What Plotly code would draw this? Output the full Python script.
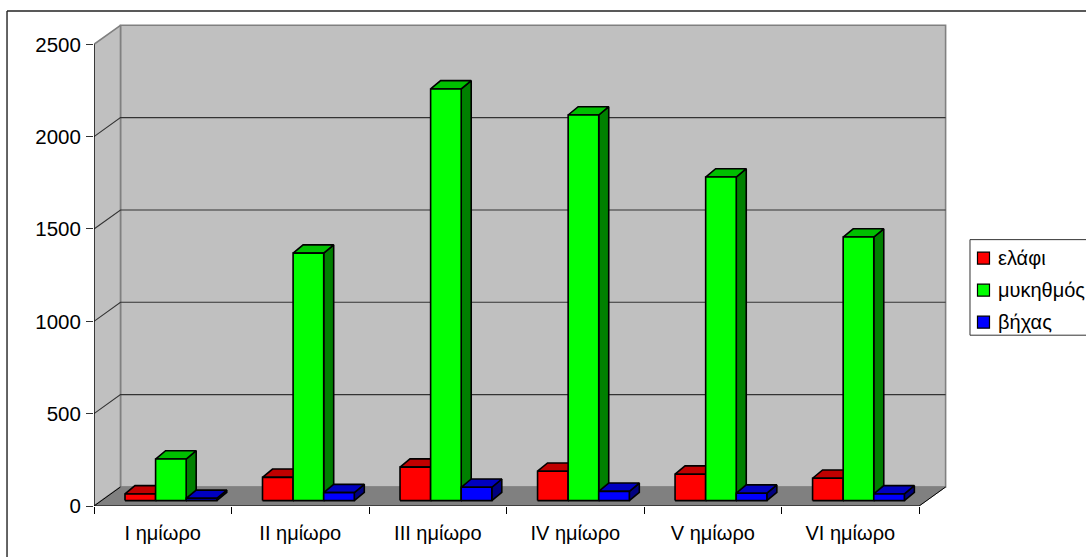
import plotly.graph_objects as go

categories = ["I ημίωρο", "II ημίωρο", "III ημίωρο", "IV ημίωρο", "V ημίωρο", "VI ημίωρο"]
elafi = [36, 126, 181, 159, 143, 121]
mykithmos = [225, 1340, 2229, 2088, 1752, 1427]
vichas = [12, 43, 72, 50, 40, 36]
y_ticks = [0, 500, 1000, 1500, 2000, 2500]

series = [
    ("ελάφι", elafi, "#FF0000", "#C00000", "#800000"),
    ("μυκηθμός", mykithmos, "#00FF00", "#00C000", "#008000"),
    ("βήχας", vichas, "#0000FF", "#0000C0", "#000080"),
]

W, H = 1086, 557
L, R, T, B = 93.8, 950, 20, 505.7
CAT_PX = 137.55
VAL_PX = 461.4 / 2500
px_x = lambda p: p / CAT_PX
px_y = lambda p: p / VAL_PX
WALL_DX, WALL_DY = px_x(26.5), px_y(19)
BAR_W = px_x(30.6)
BAR_X0 = px_x(31)
BAR_DX, BAR_DY = px_x(10), px_y(8.3)
BASE_DY = px_y(5.4)
BAR_LW = 1.6
n = len(categories)
ymax = px_y(B - T)
xmax = px_x(R - L)

fig = go.Figure()


def poly(xs, ys, fill=None, line="#000000", lw=1.0):
    fig.add_trace(go.Scatter(
        x=xs, y=ys, mode="lines", showlegend=False, hoverinfo="skip", cliponaxis=False,
        fill="toself" if fill else None, fillcolor=fill,
        line=dict(color=line, width=lw),
    ))


# front faces as bars
for j, (name, vals, c, _, _) in enumerate(series):
    fig.add_trace(go.Bar(
        x=[i + BAR_X0 + (j + 0.5) * BAR_W for i in range(n)], y=vals,
        base=[BASE_DY] * n, width=BAR_W, name=name, showlegend=False,
        marker=dict(color=c, line=dict(color="#000000", width=BAR_LW)),
    ))

# walls and floor
poly([WALL_DX, WALL_DX + n, WALL_DX + n, WALL_DX, WALL_DX],
     [WALL_DY, WALL_DY, WALL_DY + 2500, WALL_DY + 2500, WALL_DY],
     fill="#C0C0C0", line="#808080", lw=1.6)
poly([0, WALL_DX, WALL_DX, 0, 0], [0, WALL_DY, WALL_DY + 2500, 2500, 0],
     fill="#C0C0C0", line="#808080", lw=1.6)
poly([0, n, n + WALL_DX, WALL_DX, 0], [0, 0, WALL_DY, WALL_DY, 0],
     fill="#808080", line="#808080", lw=1)

# gridlines on the walls
for v in y_ticks[1:-1]:
    poly([0, WALL_DX, WALL_DX + n], [v, v + WALL_DY, v + WALL_DY], line="#333333", lw=1.1)

# front axis lines
poly([0, 0], [0, 2500], line="#000000", lw=1.2)
poly([0, n], [0, 0], line="#000000", lw=1.2)
poly([0, WALL_DX], [0, WALL_DY], line="#000000", lw=1)
poly([n, n + WALL_DX], [0, WALL_DY], line="#000000", lw=1)

# bars
for i in range(n):
    for j, (name, vals, c, top, side) in enumerate(series):
        x0 = i + BAR_X0 + j * BAR_W
        x1 = x0 + BAR_W
        y0 = BASE_DY
        y1 = BASE_DY + vals[i]
        poly([x1, x1 + BAR_DX, x1 + BAR_DX, x1, x1],
             [y0, y0 + BAR_DY, y1 + BAR_DY, y1, y0], fill=side, lw=BAR_LW)
        poly([x0, x1, x1 + BAR_DX, x0 + BAR_DX, x0],
             [y1, y1, y1 + BAR_DY, y1 + BAR_DY, y1], fill=top, lw=BAR_LW)
        poly([x0, x1, x1, x0, x0], [y0, y0, y1, y1, y0], fill=c, lw=BAR_LW)

pw, ph = R - L, B - T
fx = lambda p: (p - L) / pw
fy = lambda p: (B - p) / ph

shapes = [
    dict(type="line", xref="paper", yref="paper", x0=fx(6.8), x1=fx(W + 5), y0=fy(11), y1=fy(11),
         line=dict(color="#222222", width=1.4)),
    dict(type="line", xref="paper", yref="paper", x0=fx(6.8), x1=fx(6.8), y0=fy(11), y1=fy(H + 5),
         line=dict(color="#222222", width=1.4)),
    dict(type="rect", xref="paper", yref="paper", x0=fx(970), x1=fx(W + 5), y0=fy(239.5), y1=fy(335),
         line=dict(color="#333333", width=1), fillcolor="#FFFFFF"),
]
annotations = []
for k, (name, _, c, _, _) in enumerate(series):
    yc = 258 + 32 * k
    shapes.append(dict(type="rect", xref="paper", yref="paper", x0=fx(977.5), x1=fx(989.5),
                       y0=fy(yc - 6), y1=fy(yc + 6), fillcolor=c,
                       line=dict(color="#000000", width=1.2)))
    annotations.append(dict(text=name, xref="paper", yref="paper", x=fx(997), y=fy(yc),
                            xanchor="left", yanchor="middle", showarrow=False,
                            font=dict(size=20), xshift=-1))

fig.update_layout(
    width=W, height=H, autosize=False, showlegend=False,
    margin=dict(l=L, r=W - R, t=T, b=H - B, pad=0, autoexpand=False),
    paper_bgcolor="#FFFFFF", plot_bgcolor="rgba(0,0,0,0)",
    barmode="overlay",
    font=dict(family="Liberation Sans, Arial, sans-serif", color="#000000"),
    xaxis=dict(
        range=[0, xmax], tickmode="array",
        tickvals=[i + 0.5 for i in range(n)], ticktext=categories,
        ticks="", tickfont=dict(size=20), showgrid=False, zeroline=False, showline=False,
        ticklabelstandoff=13,
        minor=dict(tickmode="array", tickvals=list(range(n + 1)), ticks="outside",
                   ticklen=7, tickcolor="#000000", tickwidth=1, showgrid=False),
    ),
    yaxis=dict(
        range=[0, ymax], tickmode="array", tickvals=y_ticks,
        ticks="outside", ticklen=7, tickcolor="#333333", tickwidth=1,
        tickfont=dict(size=20.5), showgrid=False, zeroline=False, showline=False,
        ticklabelstandoff=1,
    ),
    shapes=shapes, annotations=annotations,
)

fig.write_html("out.html", config={"displayModeBar": False},
               post_script="document.body.style.margin='0';document.documentElement.style.overflow='hidden';")
